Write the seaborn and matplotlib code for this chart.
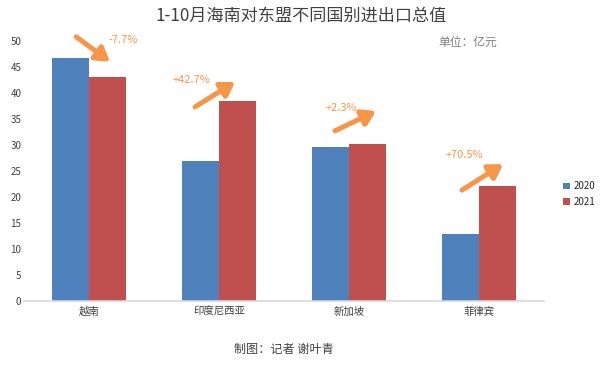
import seaborn as sns
import matplotlib.pyplot as plt
import matplotlib.patheffects as pe
import pandas as pd

countries = ['越南', '印度尼西亚', '新加坡', '菲律宾']
values_2020 = [46.7, 26.9, 29.6, 12.9]
values_2021 = [43.1, 38.5, 30.2, 22.1]
changes = ['-7.7%', '+42.7%', '+2.3%', '+70.5%']

df = pd.DataFrame({
    'country': countries * 2,
    'year': ['2020'] * 4 + ['2021'] * 4,
    'value': values_2020 + values_2021,
})

sns.set_style('white')
plt.rcParams['font.family'] = ['Noto Sans CJK SC', 'DejaVu Sans']

fig = plt.figure(figsize=(6.03, 3.70), dpi=100)
ax = fig.add_axes([0.040, 0.1865, 0.862, 0.703])

sns.barplot(data=df, x='country', y='value', hue='year', width=0.57,
            palette={'2020': '#4F81BD', '2021': '#C0504D'}, saturation=1,
            linewidth=0, ax=ax, legend=True)

ax.set_ylim(0, 50)
ax.set_xlim(-0.5, 3.5)
ax.set_yticks(range(0, 51, 5))
ax.tick_params(axis='y', labelsize=7, colors='#404040', length=0, pad=2)
ax.tick_params(axis='x', labelsize=7.5, colors='#404040', length=0, pad=4)
ax.set_xlabel('')
ax.set_ylabel('')
for s in ['top', 'right', 'left']:
    ax.spines[s].set_visible(False)
ax.spines['bottom'].set_color('#D9D9D9')
ax.spines['bottom'].set_linewidth(1.2)

# legend on the right
ax.legend(loc='center left', bbox_to_anchor=(1.02, 0.41), frameon=False,
          fontsize=7, handlelength=0.7, handleheight=0.7, handletextpad=0.4,
          labelspacing=0.6)

# change arrows (annotations)
arrow_tails = [(-0.10, 50.8), (0.815, 37.3), (1.892, 32.7), (2.869, 21.3)]
arrow_heads = [(0.16, 46.0), (1.123, 42.1), (2.208, 36.5), (3.185, 26.3)]
label_pos = [(0.26, 50.2), (0.79, 42.5), (1.94, 37.1), (2.89, 28.1)]
orange = '#F79646'
for tail, head, lp, txt in zip(arrow_tails, arrow_heads, label_pos, changes):
    ann = ax.annotate('', xy=head, xytext=tail, annotation_clip=False,
                      arrowprops=dict(arrowstyle='-|>,head_length=0.8,head_width=0.5',
                                      color=orange, lw=3.6, shrinkA=0, shrinkB=0))
    ann.arrow_patch.set_path_effects([
        pe.SimplePatchShadow(offset=(1.5, -1.5), alpha=0.25), pe.Normal()])
    ax.text(lp[0], lp[1], txt, color=orange, fontsize=8, ha='center',
            va='center', clip_on=False)

fig.text(0.5, 0.957, '1-10月海南对东盟不同国别进出口总值', ha='center', va='center',
         fontsize=12.3, color='#404040')
fig.text(0.825, 0.885, '单位：亿元', ha='right', va='center', fontsize=8.5,
         color='#808080')
fig.text(0.471, 0.055, '制图：记者 谢叶青', ha='center', va='center', fontsize=8.7,
         color='#404040')

fig.savefig('out.png', dpi=100)
